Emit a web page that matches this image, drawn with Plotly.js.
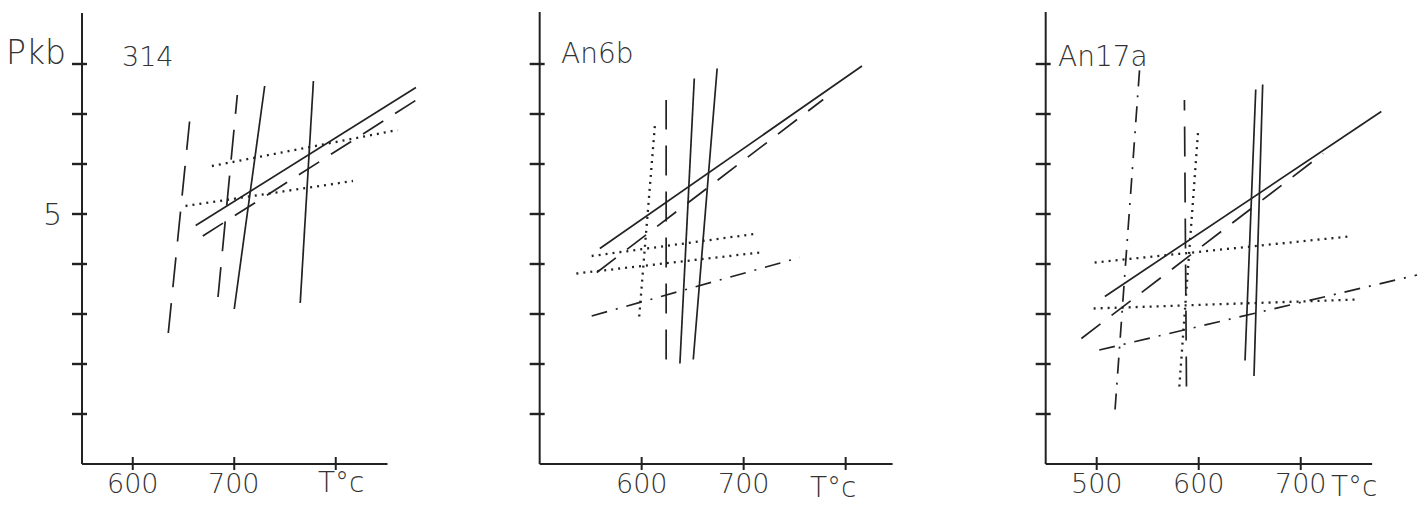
<!DOCTYPE html>
<html>
<head>
<meta charset="utf-8">
<script src="https://cdn.plot.ly/plotly-3.0.1.min.js"></script>
<style>html,body{margin:0;padding:0;background:#fff;}#chart{width:1426px;height:506px;}</style>
</head>
<body>
<div id="chart"></div>
<script>
// ---------- Panel 1 : sample 314 ----------
const s314_solidSlope_T = [662, 879];   const s314_solidSlope_P = [4.77, 7.53];
const s314_dashSlope_T  = [669, 884];   const s314_dashSlope_P  = [4.56, 7.34];
const s314_solidA_T     = [700, 730];   const s314_solidA_P     = [3.10, 7.56];
const s314_solidB_T     = [765, 778];   const s314_solidB_P     = [3.22, 7.66];
const s314_dashA_T      = [635, 656];   const s314_dashA_P      = [2.62, 6.85];
const s314_dashB_T      = [684, 703];   const s314_dashB_P      = [3.34, 7.38];
const s314_dotHigh_T    = [678, 861];   const s314_dotHigh_P    = [5.96, 6.68];
const s314_dotLow_T     = [652, 817];   const s314_dotLow_P     = [5.16, 5.66];

// ---------- Panel 2 : sample An6b ----------
const an6_solidSlope_T = [559, 816];    const an6_solidSlope_P = [4.31, 7.96];
const an6_dashSlope_T  = [556, 778];    const an6_dashSlope_P  = [3.83, 7.29];
const an6_solidA_T     = [637.5, 651.6];const an6_solidA_P     = [2.01, 7.71];
const an6_solidB_T     = [650.6, 674];  const an6_solidB_P     = [2.09, 7.91];
const an6_dashV_T      = [624, 624];    const an6_dashV_P      = [2.09, 7.28];
const an6_dotV_T       = [597.6, 613];  const an6_dotV_P       = [2.95, 6.78];
const an6_dotHigh_T    = [551, 714];    const an6_dotHigh_P    = [4.16, 4.61];
const an6_dotLow_T     = [536, 716];    const an6_dotLow_P     = [3.81, 4.23];
const an6_dashDot_T    = [551, 755];    const an6_dashDot_P    = [2.96, 4.13];

// ---------- Panel 3 : sample An17a ----------
const an17_solidSlope_T = [508, 779];   const an17_solidSlope_P = [3.35, 7.05];
const an17_dashSlope_T  = [485, 722];   const an17_dashSlope_P  = [2.51, 6.21];
const an17_solidA_T     = [645.4, 655.9];const an17_solidA_P    = [2.07, 7.49];
const an17_solidB_T     = [654.2, 662.7];const an17_solidB_P    = [1.76, 7.59];
const an17_dashDotV_T   = [518, 542];   const an17_dashDotV_P   = [1.09, 7.88];
const an17_dashV_T      = [588, 586];   const an17_dashV_P      = [1.55, 7.28];
const an17_dotV_T       = [581, 599.6]; const an17_dotV_P       = [1.55, 6.71];
const an17_dotHigh_T    = [498, 747];   const an17_dotHigh_P    = [4.03, 4.55];
const an17_dotLow_T     = [497, 756.5]; const an17_dotLow_P     = [3.11, 3.29];
const an17_dashDot_T    = [502.5, 814]; const an17_dashDot_P    = [2.28, 3.78];

// ---------- Axes / ticks / labels ----------
const panelNames   = ['314', 'An6b', 'An17a'];
const xAxisStart   = [550, 500, 450];
const xAxisEnd     = [851, 846, 770];
const yAxisTop     = [9.02, 9.04, 9.04];
const yTickVals    = [1, 2, 3, 4, 5, 6, 7, 8];
const xTickVals1   = [600, 700, 800];
const xTickVals2   = [600, 700, 800];
const xTickVals3   = [500, 600, 700];
const xTickText1   = ['600', '700'];
const xTickText2   = ['600', '700'];
const xTickText3   = ['500', '600', '700'];
const xTitle       = 'T°c';
const yTitle       = 'Pkb';
const yLabelVal    = 5;

const INK = '#222222';
const TXT = '#333333';
const DASH = {solid: 'solid', long: '30px,16px', longS: '24px,14px', dot: '2px,5px', dashdot: '16px,9px,2px,9px'};

const traces = [];
function seg(ax, T, P, style) {
  traces.push({
    type: 'scatter', mode: 'lines', x: T, y: P,
    xaxis: 'x' + (ax === 1 ? '' : ax), yaxis: 'y' + (ax === 1 ? '' : ax),
    line: {color: INK, width: style === 'dot' ? 2.3 : 1.7, dash: DASH[style]},
    hoverinfo: 'skip', showlegend: false
  });
}
// panel 1
seg(1, s314_solidSlope_T, s314_solidSlope_P, 'solid');
seg(1, s314_dashSlope_T, s314_dashSlope_P, 'longS');
seg(1, s314_solidA_T, s314_solidA_P, 'solid');
seg(1, s314_solidB_T, s314_solidB_P, 'solid');
seg(1, s314_dashA_T, s314_dashA_P, 'long');
seg(1, s314_dashB_T, s314_dashB_P, 'long');
seg(1, s314_dotHigh_T, s314_dotHigh_P, 'dot');
seg(1, s314_dotLow_T, s314_dotLow_P, 'dot');
// panel 2
seg(2, an6_solidSlope_T, an6_solidSlope_P, 'solid');
seg(2, an6_dashSlope_T, an6_dashSlope_P, 'longS');
seg(2, an6_solidA_T, an6_solidA_P, 'solid');
seg(2, an6_solidB_T, an6_solidB_P, 'solid');
seg(2, an6_dashV_T, an6_dashV_P, 'long');
seg(2, an6_dotV_T, an6_dotV_P, 'dot');
seg(2, an6_dotHigh_T, an6_dotHigh_P, 'dot');
seg(2, an6_dotLow_T, an6_dotLow_P, 'dot');
seg(2, an6_dashDot_T, an6_dashDot_P, 'dashdot');
// panel 3
seg(3, an17_solidSlope_T, an17_solidSlope_P, 'solid');
seg(3, an17_dashSlope_T, an17_dashSlope_P, 'longS');
seg(3, an17_solidA_T, an17_solidA_P, 'solid');
seg(3, an17_solidB_T, an17_solidB_P, 'solid');
seg(3, an17_dashDotV_T, an17_dashDotV_P, 'dashdot');
seg(3, an17_dashV_T, an17_dashV_P, 'long');
seg(3, an17_dotV_T, an17_dotV_P, 'dot');
seg(3, an17_dotHigh_T, an17_dotHigh_P, 'dot');
seg(3, an17_dotLow_T, an17_dotLow_P, 'dot');
seg(3, an17_dashDot_T, an17_dashDot_P, 'dashdot');

const shapes = [];
const annotations = [];
const xTickSets = [xTickVals1, xTickVals2, xTickVals3];
const xTextSets = [xTickText1, xTickText2, xTickText3];
const FONT_NUM = {family: '"DejaVu Sans", sans-serif', size: 27, color: TXT, weight: 200};
const FONT_TXT = {family: '"DejaVu Sans", sans-serif', size: 28, color: TXT, weight: 200};

for (let i = 0; i < 3; i++) {
  const xr = 'x' + (i === 0 ? '' : i + 1), yr = 'y' + (i === 0 ? '' : i + 1);
  // axis lines
  shapes.push({type: 'line', xref: xr, yref: yr, x0: xAxisStart[i], x1: xAxisStart[i], y0: 0, y1: yAxisTop[i], line: {color: INK, width: 2}});
  shapes.push({type: 'line', xref: xr, yref: yr, x0: xAxisStart[i], x1: xAxisEnd[i], y0: 0, y1: 0, line: {color: INK, width: 2}});
  // y ticks (crossing the axis)
  yTickVals.forEach(v => shapes.push({type: 'line', xref: xr, yref: yr, xsizemode: 'pixel', xanchor: xAxisStart[i], x0: -10, x1: 5, y0: v, y1: v, line: {color: INK, width: 2.4}}));
  // x ticks
  xTickSets[i].forEach(v => shapes.push({type: 'line', xref: xr, yref: yr, ysizemode: 'pixel', yanchor: 0, x0: v, x1: v, y0: -6, y1: 7, line: {color: INK, width: 2}}));
  // x tick labels
  xTextSets[i].forEach((t, k) => annotations.push({xref: xr, yref: yr, x: xTickSets[i][k], y: 0, yshift: -19, text: t, showarrow: false, xanchor: 'center', yanchor: 'middle', font: FONT_NUM}));
}
// titles / labels
annotations.push({xref: 'x', yref: 'y', x: 806, y: 0, yshift: -18, text: xTitle, showarrow: false, font: FONT_TXT});
annotations.push({xref: 'x2', yref: 'y2', x: 788, y: 0, yshift: -23, text: xTitle, showarrow: false, font: FONT_TXT});
annotations.push({xref: 'x3', yref: 'y3', x: 753, y: 0, yshift: -22, text: xTitle, showarrow: false, font: FONT_TXT});
annotations.push({xref: 'x', yref: 'y', x: 505, y: 8.24, text: yTitle, showarrow: false, font: Object.assign({}, FONT_TXT, {size: 33})});
annotations.push({xref: 'x', yref: 'y', x: 521, y: yLabelVal, text: String(yLabelVal), showarrow: false, font: Object.assign({}, FONT_TXT, {size: 30})});
annotations.push({xref: 'x', yref: 'y', x: 615, y: 8.16, text: panelNames[0], showarrow: false, font: Object.assign({}, FONT_TXT, {size: 27})});
annotations.push({xref: 'x2', yref: 'y2', x: 557, y: 8.22, text: panelNames[1], showarrow: false, font: FONT_TXT});
annotations.push({xref: 'x3', yref: 'y3', x: 506, y: 8.16, text: panelNames[2], showarrow: false, font: FONT_TXT});

const W = 1426;
const hidden = {showgrid: false, zeroline: false, showticklabels: false, ticks: '', showline: false, fixedrange: true};
const layout = {
  width: 1426, height: 506,
  margin: {l: 0, r: 0, t: 0, b: 0},
  paper_bgcolor: '#ffffff', plot_bgcolor: 'rgba(0,0,0,0)',
  showlegend: false,
  xaxis:  Object.assign({domain: [0, 475 / W], range: [469.2, 937.2]}, hidden),
  xaxis2: Object.assign({domain: [475 / W, 950 / W], range: [436.6, 902.3]}, hidden),
  xaxis3: Object.assign({domain: [950 / W, 1], range: [356.2, 822.8]}, hidden),
  yaxis:  Object.assign({domain: [0, 1], range: [-0.84, 9.28], anchor: 'x'}, hidden),
  yaxis2: Object.assign({domain: [0, 1], range: [-0.84, 9.28], anchor: 'x2'}, hidden),
  yaxis3: Object.assign({domain: [0, 1], range: [-0.84, 9.28], anchor: 'x3'}, hidden),
  shapes: shapes,
  annotations: annotations
};
Plotly.newPlot('chart', traces, layout, {displayModeBar: false, staticPlot: true});
</script>
</body>
</html>
